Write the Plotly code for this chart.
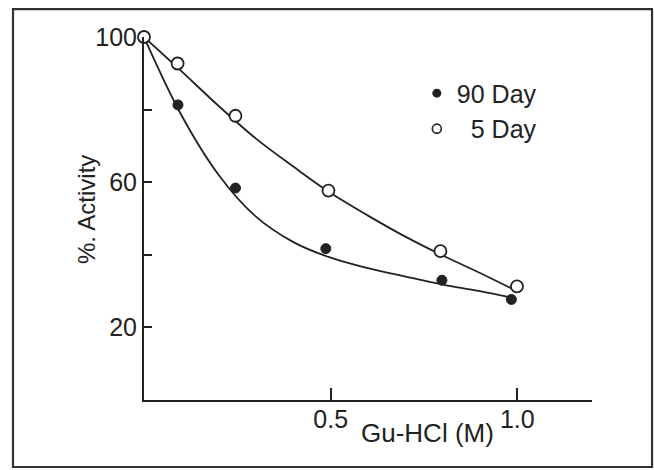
import plotly.graph_objects as go

# Measured points
day5_x = [0.0, 0.09, 0.245, 0.494, 0.794, 0.999]
day5_y = [100.0, 92.7, 78.3, 57.7, 41.0, 31.3]
day90_x = [0.091, 0.245, 0.487, 0.798, 0.984]
day90_y = [81.3, 58.4, 41.7, 33.0, 27.7]

# Fitted (hand-drawn) curves
curve5_x = [0.0, 0.1, 0.2, 0.3, 0.4, 0.5, 0.6, 0.7, 0.8, 0.9, 0.985]
curve5_y = [100.0, 90.6, 81.0, 72.0, 64.3, 57.0, 50.8, 45.0, 39.8, 35.0, 30.7]
curve90_x = [0.0, 0.1, 0.2, 0.3, 0.4, 0.5, 0.6, 0.7, 0.8, 0.9, 0.985]
curve90_y = [100.0, 78.5, 62.0, 50.5, 43.5, 39.2, 36.3, 34.0, 31.8, 30.0, 28.2]

y_tickvals = [20, 40, 60, 80, 100]
y_ticktext = ["20", "", "60", "", "100"]
x_tickvals = [0.5, 1.0]
x_ticktext = ["0.5", "1.0"]

INK = "#222222"
FONT = "Liberation Sans, Arial, sans-serif"

fig = go.Figure()
fig.add_trace(go.Scatter(x=curve5_x, y=curve5_y, mode="lines",
                         line=dict(color=INK, width=1.8, shape="spline", smoothing=1.0),
                         showlegend=False, hoverinfo="skip"))
fig.add_trace(go.Scatter(x=curve90_x, y=curve90_y, mode="lines",
                         line=dict(color=INK, width=1.8, shape="spline", smoothing=1.0),
                         showlegend=False, hoverinfo="skip"))
fig.add_trace(go.Scatter(x=day90_x, y=day90_y, mode="markers",
                         marker=dict(symbol="circle", size=10, color=INK,
                                     line=dict(color=INK, width=1)),
                         showlegend=False, cliponaxis=False))
fig.add_trace(go.Scatter(x=day5_x, y=day5_y, mode="markers",
                         marker=dict(symbol="circle", size=12, color="white",
                                     line=dict(color=INK, width=1.8)),
                         showlegend=False, cliponaxis=False))
# legend-only entries
fig.add_trace(go.Scatter(x=[None], y=[None], mode="markers", name="90 Day",
                         marker=dict(symbol="circle", size=9, color=INK)))
fig.add_trace(go.Scatter(x=[None], y=[None], mode="markers", name="\u00a0\u00a05 Day",
                         marker=dict(symbol="circle", size=9, color="white",
                                     line=dict(color=INK, width=1.6))))

fig.update_layout(
    width=654, height=470,
    margin=dict(l=144, r=62, t=37, b=70),
    paper_bgcolor="white", plot_bgcolor="white",
    font=dict(family=FONT, size=25, color=INK),
    showlegend=True,
    legend=dict(x=0.609, y=0.908, xanchor="left", yanchor="top",
                bgcolor="rgba(0,0,0,0)", font=dict(size=25, color=INK),
                itemwidth=30, tracegroupgap=0),
    xaxis=dict(range=[0, 1.2], showgrid=False, zeroline=False,
               showline=True, linecolor=INK, linewidth=2,
               tickvals=x_tickvals, ticktext=x_ticktext,
               ticks="inside", ticklen=12, tickwidth=1.8, tickcolor=INK,
               ticklabelstandoff=-4,
               tickfont=dict(size=25, color=INK)),
    yaxis=dict(range=[0, 100], showgrid=False, zeroline=False,
               showline=True, linecolor=INK, linewidth=2,
               tickvals=y_tickvals, ticktext=y_ticktext,
               ticks="inside", ticklen=8, tickwidth=1.8, tickcolor=INK,
               tickfont=dict(size=25, color=INK)),
    annotations=[
        dict(text="Gu-HCl (M)", xref="paper", yref="paper", x=0.632, y=-0.09,
             showarrow=False, font=dict(size=26, color=INK),
             xanchor="center", yanchor="middle"),
        dict(text="%. Activity", xref="paper", yref="paper", x=-0.1295, y=0.526,
             showarrow=False, textangle=-90, font=dict(size=24, color=INK),
             xanchor="center", yanchor="middle"),
    ],
    shapes=[
        dict(type="rect", xref="paper", yref="paper",
             x0=-0.2924, x1=1.134, y0=-0.1846, y1=1.077,
             line=dict(color="#333333", width=2.2), fillcolor="rgba(0,0,0,0)"),
    ],
)

fig.write_html("out.html")
